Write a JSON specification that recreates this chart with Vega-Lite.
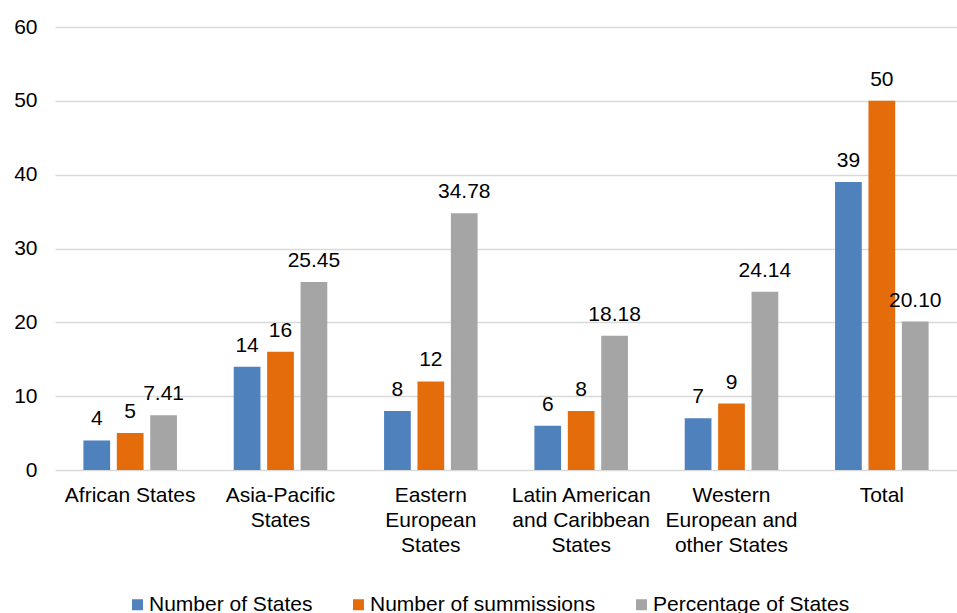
{
  "$schema": "https://vega.github.io/schema/vega-lite/v6.json",
  "autosize": {"type": "none"},
  "width": 902,
  "height": 443,
  "padding": {"left": 55, "top": 27, "right": 0, "bottom": 143},
  "background": "white",
  "config": {
    "font": "Liberation Sans",
    "view": {"stroke": null}
  },
  "data": {
    "values": [
      {"region": "African States", "series": "Number of States", "value": 4},
      {"region": "African States", "series": "Number of summissions", "value": 5},
      {"region": "African States", "series": "Percentage of States", "value": 7.41},
      {"region": "Asia-Pacific States", "series": "Number of States", "value": 14},
      {"region": "Asia-Pacific States", "series": "Number of summissions", "value": 16},
      {"region": "Asia-Pacific States", "series": "Percentage of States", "value": 25.45},
      {"region": "Eastern European States", "series": "Number of States", "value": 8},
      {"region": "Eastern European States", "series": "Number of summissions", "value": 12},
      {"region": "Eastern European States", "series": "Percentage of States", "value": 34.78},
      {"region": "Latin American and Caribbean States", "series": "Number of States", "value": 6},
      {"region": "Latin American and Caribbean States", "series": "Number of summissions", "value": 8},
      {"region": "Latin American and Caribbean States", "series": "Percentage of States", "value": 18.18},
      {"region": "Western European and other States", "series": "Number of States", "value": 7},
      {"region": "Western European and other States", "series": "Number of summissions", "value": 9},
      {"region": "Western European and other States", "series": "Percentage of States", "value": 24.14},
      {"region": "Total", "series": "Number of States", "value": 39},
      {"region": "Total", "series": "Number of summissions", "value": 50},
      {"region": "Total", "series": "Percentage of States", "value": 20.10}
    ]
  },
  "transform": [
    {"calculate": "datum.series == 'Percentage of States' ? format(datum.value, '.2f') : format(datum.value, 'd')", "as": "label"}
  ],
  "encoding": {
    "x": {
      "field": "region",
      "type": "nominal",
      "sort": ["African States", "Asia-Pacific States", "Eastern European States", "Latin American and Caribbean States", "Western European and other States", "Total"],
      "scale": {"paddingInner": 0.3333, "paddingOuter": 0.1667},
      "axis": {
        "title": null,
        "domain": false,
        "ticks": false,
        "labelAngle": 0,
        "labelFontSize": 21,
        "labelColor": "#000000",
        "labelPadding": 14,
        "labelLineHeight": 25,
        "labelBaseline": "top",
        "labelLimit": 300,
        "labelExpr": "datum.label == 'Asia-Pacific States' ? ['Asia-Pacific', 'States'] : datum.label == 'Eastern European States' ? ['Eastern', 'European', 'States'] : datum.label == 'Latin American and Caribbean States' ? ['Latin American', 'and Caribbean', 'States'] : datum.label == 'Western European and other States' ? ['Western', 'European and', 'other States'] : datum.label"
      }
    },
    "xOffset": {
      "field": "series",
      "type": "nominal",
      "sort": ["Number of States", "Number of summissions", "Percentage of States"],
      "scale": {"paddingInner": 0.2, "paddingOuter": 0.1}
    },
    "y": {
      "field": "value",
      "type": "quantitative",
      "scale": {"domain": [0, 60], "nice": false},
      "axis": {
        "title": null,
        "domain": false,
        "ticks": false,
        "values": [0, 10, 20, 30, 40, 50, 60],
        "labelFontSize": 21,
        "labelColor": "#000000",
        "labelPadding": 18,
        "gridColor": "#d9d9d9",
        "gridWidth": 1.5
      }
    }
  },
  "layer": [
    {
      "mark": {"type": "bar"},
      "encoding": {
        "color": {
          "field": "series",
          "type": "nominal",
          "sort": ["Number of States", "Number of summissions", "Percentage of States"],
          "scale": {
            "domain": ["Number of States", "Number of summissions", "Percentage of States"],
            "range": ["#4f81bd", "#e46c0a", "#a5a5a5"]
          },
          "legend": {
            "title": null,
            "orient": "none",
            "direction": "horizontal",
            "legendX": 72,
            "legendY": 567,
            "symbolType": "square",
            "symbolSize": 121,
            "symbolStrokeWidth": 0,
            "labelFontSize": 21,
            "labelColor": "#000000",
            "labelOffset": 1,
            "columnPadding": 35,
            "labelLimit": 400
          }
        }
      }
    },
    {
      "mark": {"type": "text", "baseline": "alphabetic", "dy": -15, "fontSize": 21, "color": "#000000"},
      "encoding": {
        "text": {"field": "label"}
      }
    }
  ]
}
